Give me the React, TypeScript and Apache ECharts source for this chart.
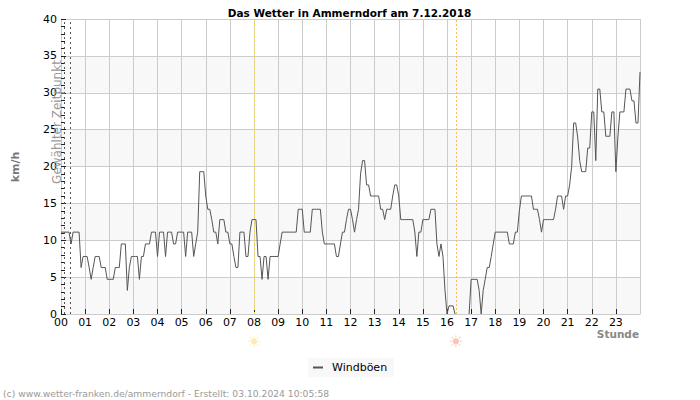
import React, { useEffect, useRef } from "react";
import * as echarts from "echarts";

const titleText = "Das Wetter in Ammerndorf am 7.12.2018";
const footerText = "(c) www.wetter-franken.de/ammerndorf - Erstellt: 03.10.2024 10:05:58";
const seriesName = "Windböen";
const yTicksMax = 40;
const selectedTimes = [0.14, 0.4];
const sunrise = 8.0;
const sunset = 16.37;
const sunY = -3.7;

// 5-minute samples, one row per hour (null: the line lies hidden under the axis)
const h00 = [11.1, 11.1, 11.1, 11.1, 11.1, 9.5, 11.1, 11.1, 11.1, 11.1, 6.3, 7.8];
const h01 = [7.8, 7.8, 6.3, 4.7, 6.3, 7.8, 7.8, 7.8, 6.3, 6.3, 6.3, 4.7];
const h02 = [4.7, 4.7, 4.7, 6.3, 6.3, 6.3, 9.5, 9.5, 9.5, 3.2, 6.3, 7.8];
const h03 = [7.8, 7.8, 7.8, 4.7, 7.8, 7.8, 9.5, 9.5, 9.5, 11.1, 11.1, 11.1];
const h04 = [7.8, 11.1, 11.1, 11.1, 7.8, 11.1, 11.1, 11.1, 9.5, 9.5, 11.1, 11.1];
const h05 = [11.1, 11.1, 7.8, 11.1, 11.1, 11.1, 7.8, 9.5, 11.1, 19.3, 19.3, 19.3];
const h06 = [16, 14.2, 14.2, 12.8, 11.1, 11.1, 9.5, 12.8, 12.8, 12.8, 11.1, 11.1];
const h07 = [9.5, 9.5, 7.8, 6.3, 6.3, 11.1, 11.1, 11.1, 7.8, 7.8, 11.1, 12.8];
const h08 = [12.8, 12.8, 7.8, 7.8, 4.7, 7.8, 7.8, 4.7, 7.8, 7.8, 7.8, 7.8];
const h09 = [7.8, 9.5, 11.1, 11.1, 11.1, 11.1, 11.1, 11.1, 11.1, 11.1, 14.2, 14.2];
const h10 = [14.2, 11.1, 11.1, 11.1, 11.1, 14.2, 14.2, 14.2, 14.2, 14.2, 11.1, 9.5];
const h11 = [9.5, 9.5, 9.5, 9.5, 9.5, 7.8, 7.8, 9.5, 11.1, 11.1, 12.8, 14.2];
const h12 = [14.2, 12.8, 11.1, 12.8, 14.2, 19, 20.8, 20.8, 17.5, 17.5, 16, 16];
const h13 = [16, 16, 16, 14.2, 14.2, 12.8, 14.2, 14.2, 14.2, 16, 17.5, 17.5];
const h14 = [16, 12.8, 12.8, 12.8, 12.8, 12.8, 12.8, 12.8, 11.1, 7.8, 11.1, 11.1];
const h15 = [12.8, 12.8, 12.8, 12.8, 14.2, 14.2, 14.2, 9.5, 7.8, 9.5, 7.8, 3.2];
const h16 = [0, 1.1, 1.1, 1.1, 0, null, null, null, null, null, null, 0];
const h17 = [4.7, 4.7, 4.7, 4.7, 3.2, 0, 3.2, 4.7, 6.3, 6.3, 7.8, 9.5];
const h18 = [11.1, 11.1, 11.1, 11.1, 11.1, 11.1, 11.1, 9.5, 9.5, 9.5, 11.1, 11.1];
const h19 = [14, 16, 16, 16, 16, 16, 16, 14.2, 14.2, 14.2, 12.8, 11.1];
const h20 = [12.8, 12.8, 12.8, 12.8, 12.8, 12.8, 14.2, 16, 16, 16, 14.2, 16];
const h21 = [16, 17.5, 20, 25.9, 25.9, 24, 20.8, 19.3, 19.3, 19.3, 22.5, 22.5];
const h22 = [27.4, 27.4, 20.8, 30.5, 30.5, 27.4, 27.4, 24.1, 24.1, 24.1, 27.4, 27.4];
const h23 = [19.3, 24, 27.4, 27.4, 27.4, 30.5, 30.5, 30.5, 28.9, 28.9, 25.9, 25.9];
const lastSample = [32.8];

const gusts = [
  ...h00, ...h01, ...h02, ...h03, ...h04, ...h05, ...h06, ...h07,
  ...h08, ...h09, ...h10, ...h11, ...h12, ...h13, ...h14, ...h15,
  ...h16, ...h17, ...h18, ...h19, ...h20, ...h21, ...h22, ...h23, ...lastSample,
];

const sunPath =
  "path://M46 0h8v16h-8zM46 84h8v16h-8zM0 46h16v8H0zM84 46h16v8H84zM16 11l12 12-5 5-12-12zM77 72l12 12-5 5-12-12zM84 11l5 5-12 12-5-5zM23 72l5 5-12 12-5-5zM50 24a26 26 0 1 1 0 52a26 26 0 1 1 0-52z";

export default function App() {
  const ref = useRef<HTMLDivElement>(null);
  useEffect(() => {
    const chart = echarts.init(ref.current!, null, { renderer: "svg" });
    const font = "DejaVu Sans";
    chart.setOption({
      animation: false,
      textStyle: { fontFamily: font },
      title: {
        text: titleText,
        left: 344.5,
        top: 2,
        textAlign: "center",
        textStyle: { fontSize: 10.5, fontWeight: "bold", color: "#000", fontFamily: font },
      },
      legend: {
        data: [{ name: seriesName, icon: "rect" }],
        left: 308,
        top: 358,
        padding: [4, 7, 4, 5],
        backgroundColor: "#f8f8f8",
        itemWidth: 10,
        itemHeight: 2,
        itemGap: 4,
        textStyle: { fontSize: 11, color: "#000", fontFamily: font, padding: [0, 0, 0, 4] },
      },
      grid: { left: 61, right: 60, top: 19, bottom: 86, containLabel: false },
      xAxis: {
        type: "value",
        min: 0,
        max: 24,
        interval: 1,
        axisLine: { show: true, lineStyle: { color: "#ccc", width: 1 } },
        axisTick: { show: true, inside: true, length: 5, lineStyle: { color: "#222", width: 1 } },
        axisLabel: {
          color: "#000",
          fontSize: 11,
          margin: 3,
          showMaxLabel: false,
          formatter: (v: number) => (v < 24 ? String(v).padStart(2, "0") : ""),
        },
        splitLine: { show: true, lineStyle: { color: "#ccc", width: 1 } },
      },
      yAxis: {
        type: "value",
        min: 0,
        max: yTicksMax,
        interval: 5,
        axisLine: { show: true, lineStyle: { color: "#ccc", width: 1 } },
        axisTick: { show: true, inside: true, length: 5, lineStyle: { color: "#222", width: 1 } },
        minorTick: { show: true, splitNumber: 5, length: 4, lineStyle: { color: "#222", width: 1 } },
        axisLabel: { color: "#000", fontSize: 11, margin: 4 },
        splitLine: { show: true, lineStyle: { color: "#ccc", width: 1 } },
        splitArea: { show: true, areaStyle: { color: ["#f8f8f8", "#ffffff"] } },
      },
      series: [
        {
          name: seriesName,
          type: "line",
          data: gusts.map((v, i) => [i / 12, v]),
          showSymbol: false,
          symbol: "none",
          clip: true,
          connectNulls: false,
          lineStyle: { color: "#555", width: 1 },
          itemStyle: { color: "#555" },
          markLine: {
            silent: true,
            symbol: "none",
            label: { show: false },
            data: [
              ...selectedTimes.map((t) => ({
                xAxis: t,
                lineStyle: { color: "#555", type: [2, 3], width: 1 },
              })),
              { xAxis: sunrise, lineStyle: { color: "#f5e04a", type: [2, 2], width: 1 } },
              { xAxis: sunset, lineStyle: { color: "#fbbc5a", type: [2, 2], width: 1 } },
            ],
          },
        },
        {
          name: "Sonne",
          type: "scatter",
          clip: false,
          silent: true,
          symbol: sunPath,
          symbolSize: 12,
          data: [
            { value: [sunrise, sunY], itemStyle: { color: "#fde9a0" } },
            { value: [sunset, sunY], itemStyle: { color: "#f9b8a0" } },
          ],
        },
      ],
      graphic: [
        {
          type: "text",
          x: 15,
          y: 167,
          rotation: Math.PI / 2,
          style: {
            text: "km/h",
            font: "bold 11px DejaVu Sans",
            fill: "#777",
            textAlign: "center",
            textVerticalAlign: "middle",
          },
        },
        {
          type: "text",
          x: 57,
          y: 122,
          rotation: Math.PI / 2,
          z: 20,
          style: {
            text: "Gewählter Zeitpunkt",
            font: "12px DejaVu Sans",
            fill: "#999",
            textAlign: "center",
            textVerticalAlign: "middle",
          },
        },
        {
          type: "text",
          x: 639,
          y: 334,
          style: {
            text: "Stunde",
            font: "bold 10.5px DejaVu Sans",
            fill: "#888",
            textAlign: "right",
            textVerticalAlign: "middle",
          },
        },
        {
          type: "text",
          x: 3,
          y: 393,
          style: {
            text: footerText,
            font: "9.2px DejaVu Sans",
            fill: "#999",
            textAlign: "left",
            textVerticalAlign: "middle",
          },
        },
      ],
    });
    return () => chart.dispose();
  }, []);
  return <div ref={ref} style={{ width: 700, height: 400, position: "absolute", left: 0, top: 0 }} />;
}
